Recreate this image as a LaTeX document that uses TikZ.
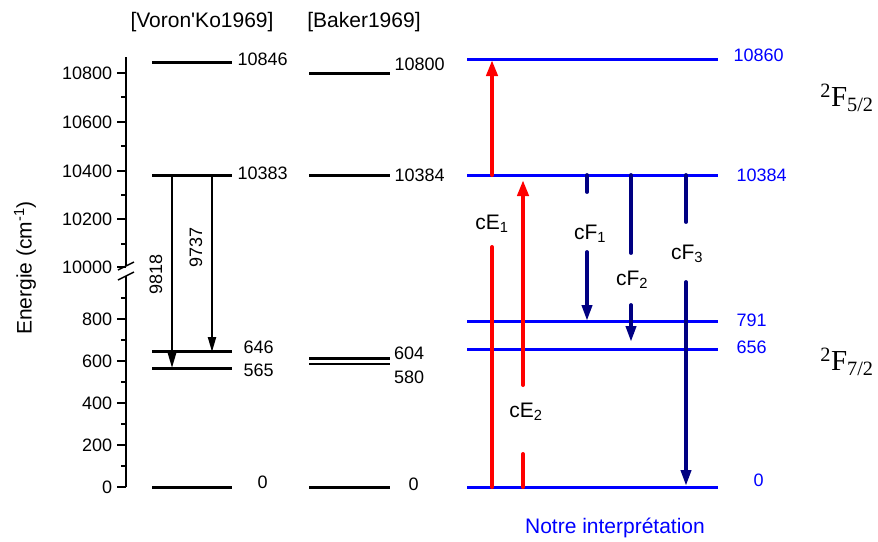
\documentclass[tikz,border=0pt]{standalone}
\usepackage{fontspec}
\setmainfont{Liberation Sans}
\newfontfamily\termfont{Liberation Serif}
\usetikzlibrary{arrows.meta}
\definecolor{navyblue}{RGB}{0,0,130}

\begin{document}
\begin{tikzpicture}[x=1pt,y=-1pt,
    lvl/.style={line width=3pt},
    thinlvl/.style={line width=2.2pt},
    nlvl/.style={line width=3pt,blue},
    axis/.style={line width=1.5pt},
    num/.style={font=\fontsize{18}{20}\selectfont,inner sep=0pt},
    txt/.style={font=\fontsize{21}{24}\selectfont,inner sep=0pt},
    term/.style={font=\fontsize{29}{32}\termfont,inner sep=0pt},
    ref/.style={line width=2.2pt,-{Triangle[length=15pt,width=8pt]}},
    exc/.style={line width=4pt,red,line cap=round},
    excarr/.style={exc,-{Triangle[length=16pt,width=11pt]}},
    fluo/.style={line width=3.8pt,navyblue,line cap=round},
    fluoarr/.style={fluo,-{Triangle[length=16pt,width=10pt]}}]
  \useasboundingbox (0,0) rectangle (878,541);

  % --- energy axis with break ---
  \draw[axis] (126,57) -- (126,266);
  \draw[axis] (126,276) -- (126,487);
  \draw[axis] (118,270) -- (134,262);
  \draw[axis] (118,280) -- (134,272);
  \foreach \v/\y in {10000/267,10200/219,10400/171,10600/122,10800/73,
                     0/487,200/445,400/403,600/361,800/319}
    \draw[axis] (126,\y) -- (117,\y) node[num,anchor=east,xshift=-4pt]{\v};
  \foreach \y in {244,195,146,97,466,424,382,340,298}
    \draw[axis] (126,\y) -- (121,\y);
  \node[txt,rotate=90] (ylab) at (25,268) {Energie (cm\textsuperscript{-1})};

  % --- Voron'Ko column ---
  \node[txt] (vtitle) at (202,22) {[Voron\textquotesingle Ko1969]};
  \draw[lvl] (152,62) -- (232,62) node[num,anchor=west,xshift=4pt,yshift=3pt]{10846};
  \draw[lvl] (152,175) -- (232,175) node[num,anchor=west,xshift=4pt,yshift=2pt]{10383};
  \draw[lvl] (152,351) -- (232,351) node[num,anchor=west,xshift=10pt,yshift=4pt]{646};
  \draw[lvl] (152,368) -- (232,368) node[num,anchor=west,xshift=10pt,yshift=-2pt]{565};
  \draw[lvl] (152,487) -- (232,487) node[num,anchor=west,xshift=24pt,yshift=5pt]{0};
  \coordinate (va) at (172,175);
  \coordinate (vb) at (172,368);
  \coordinate (vc) at (212,175);
  \coordinate (vd) at (212,352);
  \draw[ref] (va) -- (vb);
  \draw[ref] (vc) -- (vd);
  \node[num,rotate=90] (l9818) at (156,274) {9818};
  \node[num,rotate=90] (l9737) at (196,247) {9737};

  % --- Baker column ---
  \node[txt] (btitle) at (364,22) {[Baker1969]};
  \draw[lvl] (309,73) -- (390,73) node[num,anchor=west,xshift=3pt,yshift=9pt]{10800};
  \draw[lvl] (309,175) -- (390,175) node[num,anchor=west,xshift=3pt]{10384};
  \draw[thinlvl] (309,358.5) -- (390,358.5) node[num,anchor=west,xshift=3pt,yshift=5pt]{604};
  \draw[thinlvl] (309,364) -- (390,364) node[num,anchor=west,xshift=3pt,yshift=-13pt]{580};
  \draw[lvl] (309,487) -- (390,487) node[num,anchor=west,xshift=17pt,yshift=3pt]{0};

  % --- our interpretation ---
  \draw[nlvl] (467,59) -- (718,59) node[num,blue,anchor=west,xshift=14pt,yshift=4pt]{10860};
  \draw[nlvl] (467,175) -- (718,175) node[num,blue,anchor=west,xshift=17pt]{10384};
  \draw[nlvl] (467,321) -- (718,321) node[num,blue,anchor=west,xshift=17pt,yshift=1pt]{791};
  \draw[nlvl] (467,349) -- (718,349) node[num,blue,anchor=west,xshift=17pt,yshift=2pt]{656};
  \draw[nlvl] (467,487) -- (718,487) node[num,blue,anchor=west,xshift=34pt,yshift=7pt]{0};
  \node[txt,blue] (notre) at (615,528) {Notre interpr\'etation};
  \node[term] (f52) at (847,98) {\textsuperscript{2}F\textsubscript{5/2}};
  \node[term] (f72) at (847,362) {\textsuperscript{2}F\textsubscript{7/2}};

  % excitation (red)
  \coordinate (e1a) at (492,487); \coordinate (e1b) at (492,247);
  \coordinate (e1c) at (492,175); \coordinate (e1d) at (492,60);
  \draw[exc] (e1a) -- (e1b);
  \draw[excarr] (e1c) -- (e1d);
  \node[txt] (cE1) at (492,224) {cE\textsubscript{1}};
  \coordinate (e2a) at (523,487); \coordinate (e2b) at (523,454);
  \coordinate (e2c) at (523,385); \coordinate (e2d) at (523,180);
  \draw[exc] (e2a) -- (e2b);
  \draw[excarr] (e2c) -- (e2d);
  \node[txt] (cE2) at (526,412) {cE\textsubscript{2}};

  % fluorescence (navy)
  \coordinate (f1a) at (587,175); \coordinate (f1b) at (587,192);
  \coordinate (f1c) at (587,252); \coordinate (f1d) at (587,321);
  \draw[fluo] (f1a) -- (f1b);
  \draw[fluoarr] (f1c) -- (f1d);
  \node[txt] (cF1) at (590,234) {cF\textsubscript{1}};
  \coordinate (f2a) at (631,175); \coordinate (f2b) at (631,253);
  \coordinate (f2c) at (631,305); \coordinate (f2d) at (631,342);
  \draw[fluo] (f2a) -- (f2b);
  \draw[fluoarr] (f2c) -- (f2d);
  \node[txt] (cF2) at (632,280) {cF\textsubscript{2}};
  \coordinate (f3a) at (686,175); \coordinate (f3b) at (686,222);
  \coordinate (f3c) at (686,282); \coordinate (f3d) at (686,486);
  \draw[fluo] (f3a) -- (f3b);
  \draw[fluoarr] (f3c) -- (f3d);
  \node[txt] (cF3) at (687,254) {cF\textsubscript{3}};
\end{tikzpicture}
\end{document}
